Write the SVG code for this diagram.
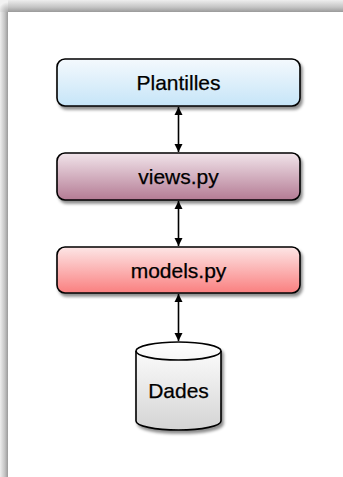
<svg xmlns="http://www.w3.org/2000/svg" width="343" height="477" viewBox="0 0 343 477">
  <defs>
    <linearGradient id="edgeLeft" x1="0" y1="0" x2="1" y2="0">
      <stop offset="0" stop-color="#eeeeee"/>
      <stop offset="0.6" stop-color="#c4c4c4"/>
      <stop offset="1" stop-color="#9a9a9a"/>
    </linearGradient>
    <linearGradient id="edgeTop" x1="0" y1="0" x2="0" y2="1">
      <stop offset="0" stop-color="#eeeeee"/>
      <stop offset="0.6" stop-color="#c4c4c4"/>
      <stop offset="1" stop-color="#9a9a9a"/>
    </linearGradient>
    <radialGradient id="edgeCorner" cx="8" cy="12" r="10" gradientUnits="userSpaceOnUse">
      <stop offset="0" stop-color="#a8a8a8"/>
      <stop offset="1" stop-color="#f2f2f2"/>
    </radialGradient>
    <filter id="drop" x="-20%" y="-30%" width="140%" height="170%">
      <feDropShadow dx="2" dy="3" stdDeviation="1.8" flood-color="#000" flood-opacity="0.45"/>
    </filter>
    <linearGradient id="gBlue" x1="0" y1="0" x2="0" y2="1">
      <stop offset="0" stop-color="#f4f9fd"/>
      <stop offset="1" stop-color="#c6e5f8"/>
    </linearGradient>
    <linearGradient id="gMauve" x1="0" y1="0" x2="0" y2="1">
      <stop offset="0" stop-color="#f1e4ea"/>
      <stop offset="1" stop-color="#b47b94"/>
    </linearGradient>
    <linearGradient id="gRed" x1="0" y1="0" x2="0" y2="1">
      <stop offset="0" stop-color="#fde6e6"/>
      <stop offset="1" stop-color="#fa7f7f"/>
    </linearGradient>
    <linearGradient id="gGray" x1="0" y1="0" x2="0" y2="1">
      <stop offset="0" stop-color="#ffffff"/>
      <stop offset="1" stop-color="#d4d4d4"/>
    </linearGradient>
    <marker id="head" viewBox="0 0 10 10" refX="10" refY="5" markerWidth="8" markerHeight="10" markerUnits="userSpaceOnUse" orient="auto-start-reverse">
      <path d="M0,0 L10,5 L0,10 Z" fill="#000"/>
    </marker>
    <style>
      .box { stroke: #000; stroke-width: 1.6; }
      .label { font-family: "Liberation Sans", Arial, sans-serif; font-size: 21px; fill: #000; stroke: #000; stroke-width: 0.25; text-anchor: middle; }
      .link { stroke: #000; stroke-width: 1.6; fill: none; marker-start: url(#head); marker-end: url(#head); }
    </style>
  </defs>

  <!-- page with soft edge shading -->
  <rect x="0" y="0" width="343" height="477" fill="#ffffff"/>
  <rect x="0" y="0" width="8" height="12" fill="url(#edgeCorner)"/>
  <rect x="8" y="0" width="335" height="12" fill="url(#edgeTop)"/>
  <rect x="0" y="12" width="8" height="465" fill="url(#edgeLeft)"/>

  <!-- connectors -->
  <g id="connectors">
    <line class="link" x1="178.5" y1="107" x2="178.5" y2="152"/>
    <line class="link" x1="178.5" y1="201" x2="178.5" y2="246"/>
    <line class="link" x1="178.5" y1="294" x2="178.5" y2="341"/>
  </g>

  <g id="plantilles">
    <rect class="box" x="57" y="59" width="243" height="47" rx="8" fill="url(#gBlue)" filter="url(#drop)"/>
    <text class="label" x="178.5" y="90">Plantilles</text>
  </g>

  <g id="views">
    <rect class="box" x="57" y="153" width="243" height="47" rx="8" fill="url(#gMauve)" filter="url(#drop)"/>
    <text class="label" x="178.5" y="184">views.py</text>
  </g>

  <g id="models">
    <rect class="box" x="57" y="247" width="243" height="46" rx="8" fill="url(#gRed)" filter="url(#drop)"/>
    <text class="label" x="178.5" y="277.5">models.py</text>
  </g>

  <g id="dades">
    <path class="box" d="M136,351 A42.5,9 0 0 1 221,351 L221,421 A42.5,9 0 0 1 136,421 Z" fill="url(#gGray)" filter="url(#drop)"/>
    <path d="M136,351 A42.5,9 0 0 0 221,351" fill="none" stroke="#000" stroke-width="1.6"/>
    <text class="label" x="178.5" y="398">Dades</text>
  </g>
</svg>
